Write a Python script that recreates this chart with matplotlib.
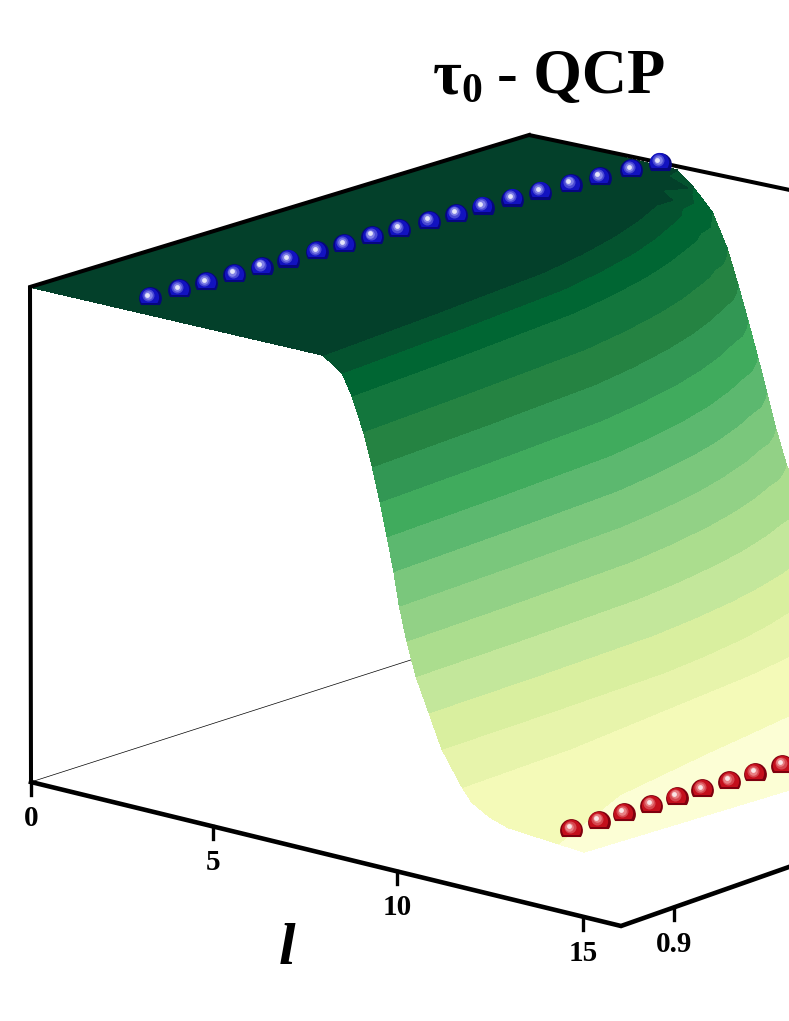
import numpy as np
import matplotlib
matplotlib.use('Agg')
import matplotlib.pyplot as plt
from matplotlib.path import Path

plt.rcParams['font.family'] = ['Liberation Serif', 'DejaVu Serif']

# tau levels of the surface, from the plateau down to the far edge
tau_nodes = [1.0, 0.992, 0.965, 0.924, 0.858, 0.792, 0.726, 0.66, 0.594,
             0.528, 0.462, 0.396, 0.33, 0.264, 0.198, 0.173, 0.152, 0.14, 0.132, 0.128]
g_nodes = [0.877, 0.927, 0.977, 0.997, 1.017, 1.032, 1.047, 1.053, 1.059, 1.065, 1.071, 1.077]

# l where the surface reaches each tau level, one row per level, one column per g
l_at_tau = [
    [0, 0, 0, 0, 0, 0, 0, 0, 0, 0, 0, 0],
    [7.93, 7.71, 7.42, 7.13, 6.73, 6.33, 5.82, 5.85, 5.10, 5.45, 4.45, 4.30],
    [8.45, 8.23, 7.93, 7.64, 7.24, 6.83, 6.32, 6.10, 5.72, 5.62, 5.15, 4.77],
    [8.72, 8.52, 8.24, 7.97, 7.60, 7.22, 6.75, 6.55, 6.25, 6.10, 5.72, 5.32],
    [9.03, 8.83, 8.57, 8.31, 7.95, 7.59, 7.13, 6.93, 6.66, 6.48, 6.15, 5.76],
    [9.27, 9.08, 8.82, 8.57, 8.21, 7.86, 7.41, 7.19, 6.97, 6.77, 6.45, 6.07],
    [9.48, 9.29, 9.04, 8.79, 8.45, 8.11, 7.67, 7.45, 7.23, 7.05, 6.73, 6.36],
    [9.67, 9.49, 9.25, 9.00, 8.67, 8.34, 7.91, 7.70, 7.49, 7.31, 7.00, 6.64],
    [9.85, 9.67, 9.44, 9.20, 8.88, 8.56, 8.14, 7.94, 7.73, 7.56, 7.26, 6.91],
    [10.0, 9.83, 9.60, 9.38, 9.07, 8.75, 8.36, 8.16, 7.96, 7.79, 7.51, 7.17],
    [10.2, 10.04, 9.82, 9.60, 9.30, 9.00, 8.62, 8.43, 8.24, 8.08, 7.81, 7.48],
    [10.45, 10.30, 10.09, 9.89, 9.61, 9.33, 8.97, 8.79, 8.61, 8.46, 8.21, 7.90],
    [10.8, 10.66, 10.46, 10.27, 10.01, 9.74, 9.41, 9.24, 9.07, 8.93, 8.69, 8.40],
    [11.15, 11.0, 10.8, 10.60, 10.33, 10.05, 9.70, 9.53, 9.35, 9.20, 8.95, 8.65],
    [11.7, 11.45, 10.95, 10.75, 10.55, 10.33, 10.1, 10.0, 9.90, 9.80, 9.65, 9.50],
    [11.96, 11.85, 11.3, 11.08, 10.85, 10.63, 10.4, 10.3, 10.2, 10.1, 9.95, 9.80],
    [12.45, 12.2, 11.6, 11.35, 11.1, 10.9, 10.7, 10.6, 10.5, 10.4, 10.25, 10.1],
    [12.94, 12.5, 11.85, 11.58, 11.3, 11.1, 10.9, 10.8, 10.7, 10.6, 10.45, 10.3],
    [14.3, 12.8, 12.05, 11.78, 11.5, 11.3, 11.1, 11.0, 10.9, 10.8, 10.65, 10.5],
    [15, 15, 15, 15, 15, 15, 15, 15, 15, 15, 15, 15],
]

contour_levels = [0.12, 0.132, 0.198, 0.264, 0.33, 0.396, 0.462, 0.528, 0.594,
                  0.66, 0.726, 0.792, 0.858, 0.924, 0.965, 0.992, 1.01]
band_colors = ['#fcfed5', '#f4fab8', '#e7f4ab', '#d9ef9f', '#c3e79b', '#abdd8e',
               '#92d186', '#7ac77c', '#5cb86f', '#40ab5d', '#329754', '#258342',
               '#13763d', '#006633', '#04532f', '#03402a']

blue_g = [0.889, 0.900, 0.910, 0.921, 0.931, 0.941, 0.952, 0.962, 0.973, 0.983,
          0.994, 1.004, 1.014, 1.025, 1.035, 1.046, 1.056, 1.067, 1.077]
blue_l = [2.44, 2.50, 2.56, 2.60, 2.67, 2.73, 2.77, 2.84, 2.88, 2.94,
          3.02, 3.09, 3.15, 3.22, 3.32, 3.42, 3.55, 3.68, 3.80]
blue_tau = [1.0] * 19

red_g = [0.889, 0.900, 0.910, 0.921, 0.931, 0.941, 0.952, 0.962, 0.973]
red_l = [13.9, 13.95, 14.0, 14.06, 14.12, 14.18, 14.24, 14.3, 14.36]
red_tau = [0.137, 0.139, 0.141, 0.143, 0.146, 0.148, 0.150, 0.153, 0.155]

l_ticks = [0, 4.94, 9.92, 14.97]
l_tick_labels = ['0', '5', '10', '15']
g_ticks = [0.9]
g_tick_labels = ['0.9']

L_MAX = 16.0
G_LOW = 0.877
G_HIGH = 1.077

# pixel corners of the box, indexed [l end][g end][tau end]
BOX_X = np.array([[[31, 30], [529, 529]], [[621, 621], [1079, 1079]]], dtype=float)
BOX_Y = np.array([[[782, 287], [622, 135]], [[926, 416], [792, 251]]], dtype=float)


def project(l, g, tau):
    a = np.asarray(l, dtype=float) / L_MAX
    b = (np.asarray(g, dtype=float) - G_LOW) / (G_HIGH - G_LOW)
    c = np.asarray(tau, dtype=float)
    out = []
    for box in (BOX_X, BOX_Y):
        val = 0
        for i, wa in enumerate((1 - a, a)):
            for j, wb in enumerate((1 - b, b)):
                for k, wc in enumerate((1 - c, c)):
                    val = val + wa * wb * wc * box[i, j, k]
        out.append(val)
    return out


def front_axis(g):
    # the g axis on the floor runs a bit steeper than the surface lines
    u = (np.asarray(g, dtype=float) - G_LOW) / (G_HIGH - G_LOW)
    return 621 + 458 * u, 926 - 161 * u


def draw_domes(ax, l, g, tau, dark, mid, light):
    x, y = project(l, g, tau)
    y = y + 1.0
    dome = Path.arc(-35, 215)
    ax.scatter(x, y, s=275, marker=dome, color=dark, linewidths=0, zorder=5)
    ax.scatter(x - 0.3, y - 1.2, s=195, marker=dome, color=mid, linewidths=0, zorder=6)
    ax.scatter(x - 1.8, y - 3.2, s=75, marker='o', color=light, alpha=0.35, linewidths=0, zorder=7)
    ax.scatter(x - 2.0, y - 3.5, s=38, marker='o', color=light, alpha=0.55, linewidths=0, zorder=8)
    ax.scatter(x - 2.2, y - 3.7, s=12, marker='o', color='white', alpha=0.8, linewidths=0, zorder=9)


fig = plt.figure(figsize=(7.89, 10.21), dpi=100)
ax = fig.add_axes([0, 0, 1, 1])
ax.set_xlim(0, 789)
ax.set_ylim(1021, 0)
ax.axis('off')

# thin back floor line goes behind the surface
x, y = project([0, 0], [G_LOW, G_HIGH], [0, 0])
ax.plot(x, y, color='black', lw=0.5, zorder=1)

l_grid = np.array(l_at_tau)
g_grid = np.tile(np.array(g_nodes), (len(tau_nodes), 1))
tau_grid = np.tile(np.array(tau_nodes).reshape(-1, 1), (1, len(g_nodes)))
surf_x, surf_y = project(l_grid, g_grid, tau_grid)
cs = ax.contourf(surf_x, surf_y, tau_grid, levels=contour_levels, colors=band_colors, zorder=2)
cs.set_edgecolor('face')
cs.set_linewidth(0.4)

# thick box edges
x, y = project([0, 0, 0], [G_LOW, G_LOW, G_HIGH], [0, 1, 1])
ax.plot(x, y, color='black', lw=2.9, solid_joinstyle='miter', zorder=3)
x, y = project([0, L_MAX], [G_HIGH, G_HIGH], [1, 1])
ax.plot(x, y, color='black', lw=2.9, solid_capstyle='butt', zorder=3)
lx, ly = project([0, L_MAX], [G_LOW, G_LOW], [0, 0])
fx, fy = front_axis([G_LOW, G_HIGH])
ax.plot([lx[0], lx[1], fx[1]], [ly[0], ly[1], fy[1]], color='black', lw=3.3,
        solid_joinstyle='miter', zorder=3)

tx, ty = project(l_ticks, [G_LOW] * len(l_ticks), [0] * len(l_ticks))
for px, py, label in zip(tx, ty, l_tick_labels):
    ax.plot([px, px], [py, py + 13], color='black', lw=2.4, zorder=3)
    ax.text(px, py + 36.5, label, ha='center', va='center', fontsize=21, fontweight='bold')

gx, gy = front_axis(g_ticks)
for px, py, label in zip(gx, gy, g_tick_labels):
    ax.plot([px, px], [py, py + 13], color='black', lw=2.4, zorder=3)
    ax.text(px + 0.5, py + 37, label, ha='center', va='center', fontsize=21, fontweight='bold')

draw_domes(ax, blue_l, blue_g, blue_tau, '#06067e', '#1212c0', '#b0b0f8')
draw_domes(ax, red_l, red_g, red_tau, '#7e000e', '#c40f1c', '#f8b0b0')

ax.text(287, 950, 'l', ha='center', va='center', fontsize=43, fontweight='bold', fontstyle='italic')
ax.text(433, 93, '\u03c4', ha='left', va='baseline', fontsize=45, fontweight='bold')
ax.text(461, 102, '0', ha='left', va='baseline', fontsize=30, fontweight='bold')
ax.text(497, 93, '- QCP', ha='left', va='baseline', fontsize=45, fontweight='bold')

fig.savefig('out.png', dpi=100)
